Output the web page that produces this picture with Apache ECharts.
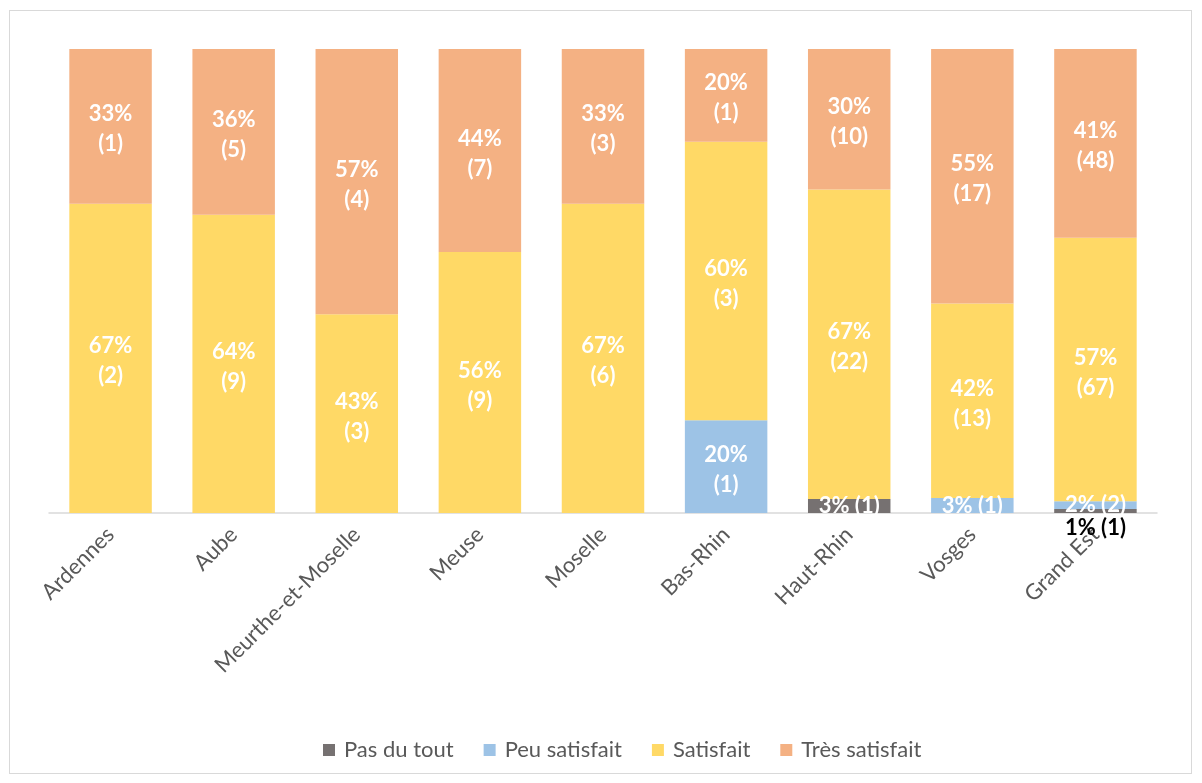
<!DOCTYPE html>
<html><head><meta charset="utf-8">
<script src="https://cdn.jsdelivr.net/npm/echarts@6/dist/echarts.min.js"></script>
<style>
html,body{margin:0;padding:0;background:#fff;}
#frame{position:absolute;left:9px;top:10px;width:1183px;height:764px;border:1px solid #d9d9d9;box-sizing:border-box;}
#chart{position:absolute;left:0;top:0;width:1202px;height:783px;}
</style></head>
<body>
<div id="frame"></div>
<div id="chart"></div>
<script>
const categories = ['Ardennes','Aube','Meurthe-et-Moselle','Meuse','Moselle','Bas-Rhin','Haut-Rhin','Vosges','Grand Est'];
const seriesNames = ['Pas du tout','Peu satisfait','Satisfait','Très satisfait'];
const pasDuTout    = [0,0,0,0,0,0,1,0,1];
const peuSatisfait = [0,0,0,0,0,1,0,1,2];
const satisfait    = [2,9,3,9,6,3,22,13,67];
const tresSatisfait= [1,5,4,7,3,1,10,17,48];
const pasPct  = [0,0,0,0,0,0,3,0,1];
const peuPct  = [0,0,0,0,0,20,0,3,2];
const satPct  = [67,64,43,56,67,60,67,42,57];
const tresPct = [33,36,57,44,33,20,30,55,41];

const counts = [pasDuTout, peuSatisfait, satisfait, tresSatisfait];
const pcts = [pasPct, peuPct, satPct, tresPct];
const colors = ['#767171','#9DC3E6','#FFD966','#F4B183'];
const totals = categories.map((c,i)=>counts.reduce((s,a)=>s+a[i],0));

const font = 'Lato, "Open Sans", sans-serif';

const series = seriesNames.map((name, si) => ({
  name, type:'bar', stack:'total', barWidth:'67%',
  itemStyle:{color:colors[si]},
  data: categories.map((c,i) => {
    const n = counts[si][i];
    const p = pcts[si][i];
    const item = {value: n===0 ? null : n/totals[i]*100};
    if (n===0) { item.label = {show:false}; return item; }
    const small = p < 10;
    if (si===0 && i===8) {
      item.label = {show:true, position:'bottom', distance:4, color:'#000', formatter: p+'% ('+n+')', fontSize:22, fontWeight:'bold', fontFamily:font};
    } else {
      item.label = {show:true, position:'inside', color:'#fff', fontSize:22, fontWeight:'bold', fontFamily:font, lineHeight:30,
        offset: small ? [0,0] : [0,3],
        formatter: small ? (p+'% ('+n+')') : (p+'%\n('+n+')')};
    }
    return item;
  })
}));

const chart = echarts.init(document.getElementById('chart'));
chart.setOption({
  animation:false,
  grid:{left:49, right:45, top:49, bottom:270, containLabel:false},
  xAxis:{type:'category', data:categories,
    axisLine:{lineStyle:{color:'#d9d9d9', width:1.5}},
    axisTick:{show:false},
    axisLabel:{rotate:45, color:'#595959', fontSize:22, fontFamily:font, margin:18, interval:0}},
  yAxis:{type:'value', min:0, max:100, show:false, splitLine:{show:false}},
  legend:{bottom:17, left:318, itemWidth:12, itemHeight:12, itemGap:30, icon:'rect',
    textStyle:{color:'#595959', fontSize:22, fontFamily:font, padding:[0,0,0,4]},
    data:seriesNames},
  series
});
</script>
</body></html>
